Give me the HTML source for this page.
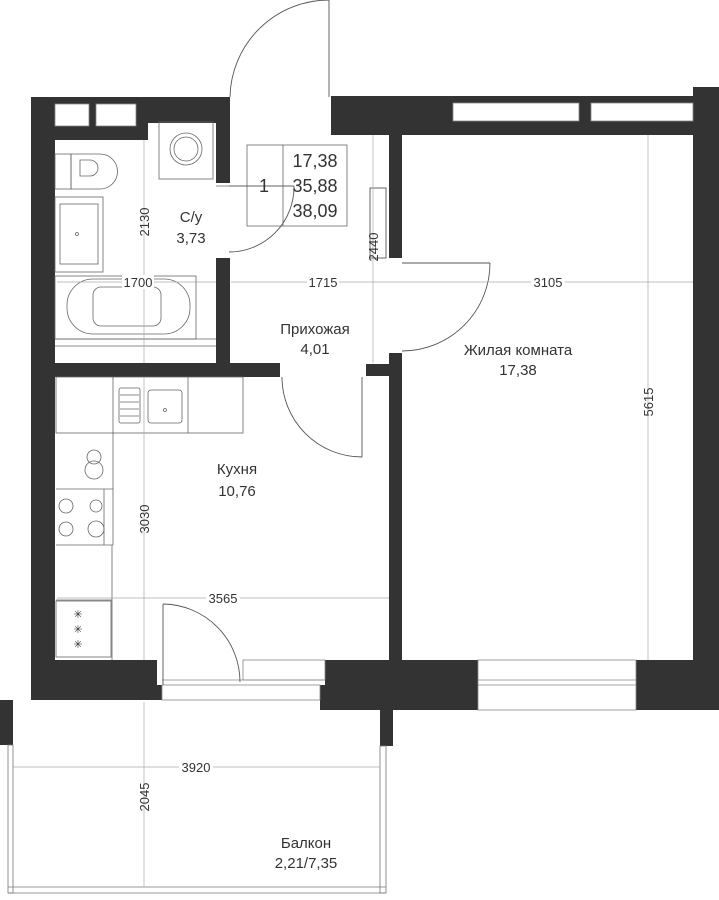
<!DOCTYPE html>
<html><head><meta charset="utf-8"><style>
html,body{margin:0;padding:0;background:#fff;}
svg{display:block}
text{font-family:"Liberation Sans",sans-serif;fill:#333;}
</style></head><body>
<svg width="719" height="900" viewBox="0 0 719 900" xmlns="http://www.w3.org/2000/svg">
<g fill="#333">
<rect x="31" y="97" width="199" height="26"/>
<rect x="31" y="97" width="117" height="43"/>
<rect x="31" y="97" width="24" height="603"/>
<rect x="216" y="97" width="14" height="86"/>
<rect x="216" y="258" width="14" height="105"/>
<rect x="31" y="363" width="249" height="14"/>
<rect x="331" y="96" width="364" height="39"/>
<rect x="693" y="87" width="26" height="623"/>
<rect x="389" y="135" width="13" height="123"/>
<rect x="389" y="353" width="13" height="310"/>
<rect x="366" y="364" width="25" height="12"/>
<rect x="31" y="660" width="126" height="40"/>
<rect x="157" y="685" width="5" height="15"/>
<rect x="325" y="660" width="153" height="25"/>
<rect x="320" y="685" width="163" height="25"/>
<rect x="380" y="700" width="13" height="46"/>
<rect x="636" y="660" width="83" height="50"/>
<rect x="0" y="700" width="13" height="45"/>
</g>
<g fill="#fff" stroke="#888" stroke-width="0.8">
<rect x="55" y="104" width="34" height="22"/>
<rect x="96" y="104" width="40" height="22"/>
<rect x="453" y="103" width="126" height="18"/>
<rect x="591" y="103" width="102" height="18"/>
<rect x="478" y="660" width="158" height="50"/>
<line x1="478" y1="680" x2="636" y2="680"/>
<line x1="478" y1="685" x2="636" y2="685"/>
<rect x="243" y="660" width="82" height="20"/>
<line x1="162" y1="680" x2="325" y2="680"/>
<rect x="162" y="685" width="158" height="15"/>
</g>
<g fill="none" stroke="#777" stroke-width="0.8">
<rect x="8" y="745" width="5" height="148"/>
<rect x="380" y="746" width="6" height="147"/>
<line x1="8" y1="887" x2="386" y2="887"/>
<line x1="8" y1="893" x2="386" y2="893"/>
</g>
<g fill="none" stroke="#555" stroke-width="0.9">
<line x1="329" y1="0" x2="329" y2="97"/>
<path d="M230 97 A99 99 0 0 1 329 0"/>
<line x1="229" y1="186" x2="294" y2="186"/>
<path d="M294 186 A65 65 0 0 1 229 252"/>
<line x1="402" y1="263" x2="490" y2="263"/>
<path d="M490 263 A88 88 0 0 1 402 351"/>
<line x1="362" y1="377" x2="362" y2="457"/>
<path d="M282 377 A80 80 0 0 0 362 457"/>
<line x1="163" y1="604" x2="163" y2="685"/>
<path d="M163 604 A78 78 0 0 1 240 682"/>
<rect x="370" y="188" width="16" height="70"/>
</g>
<g fill="none" stroke="#666" stroke-width="0.8">
<rect x="159" y="122" width="54" height="57"/>
<circle cx="186" cy="149" r="16"/>
<circle cx="186" cy="149" r="12"/>
<rect x="55" y="154" width="16" height="35"/>
<path d="M71 154 H100 A17 17 0 0 1 100 189 H71 Z"/>
<path d="M80 160 H90 A8 8 0 0 1 90 176 H80 Z"/>
<rect x="55" y="197" width="48" height="75"/>
<rect x="60" y="204" width="38" height="60"/>
<circle cx="77" cy="234" r="1.5"/>
<rect x="55" y="276" width="141" height="63"/>
<rect x="67" y="279" width="123" height="55" rx="26"/>
<rect x="93" y="287" width="68" height="39" rx="8"/>
<line x1="55" y1="346" x2="216" y2="346"/>
<line x1="55" y1="339" x2="216" y2="339"/>
<rect x="247" y="145" width="100" height="81"/>
<line x1="283" y1="145" x2="283" y2="226"/>
<line x1="216" y1="186" x2="294" y2="186"/>
<rect x="56" y="377" width="187" height="56"/>
<line x1="113" y1="377" x2="113" y2="545"/>
<line x1="188" y1="377" x2="188" y2="433"/>
<rect x="119" y="388" width="21" height="35" rx="2"/>
<line x1="120" y1="395" x2="139" y2="395"/><line x1="120" y1="402" x2="139" y2="402"/><line x1="120" y1="409" x2="139" y2="409"/><line x1="120" y1="416" x2="139" y2="416"/>
<rect x="148" y="390" width="34" height="33" rx="3"/>
<circle cx="165" cy="410" r="1.5"/>
<line x1="56" y1="489" x2="113" y2="489"/>
<line x1="56" y1="545" x2="113" y2="545"/>
<line x1="104" y1="489" x2="104" y2="545"/>
<circle cx="94" cy="457" r="7"/><circle cx="94" cy="470" r="9"/>
<circle cx="66" cy="506" r="7"/><circle cx="96" cy="506" r="6"/>
<circle cx="66" cy="529" r="7"/><circle cx="96" cy="529" r="8"/>
<rect x="56" y="601" width="55" height="56"/>
<line x1="56" y1="600" x2="112" y2="600"/>
<line x1="112" y1="545" x2="112" y2="660"/>
</g>
<g font-size="11" fill="#555"><text x="78" y="618" text-anchor="middle">✳</text><text x="78" y="633" text-anchor="middle">✳</text><text x="78" y="648" text-anchor="middle">✳</text></g>
<g stroke="#aaa" stroke-width="0.7">
<line x1="144" y1="140" x2="144" y2="363"/>
<line x1="57" y1="282" x2="216" y2="282"/>
<line x1="231" y1="282" x2="693" y2="282"/>
<line x1="373" y1="135" x2="373" y2="363"/>
<line x1="648" y1="135" x2="648" y2="660"/>
<line x1="144" y1="377" x2="144" y2="660"/>
<line x1="57" y1="598" x2="389" y2="598"/>
<line x1="13" y1="767" x2="380" y2="767"/>
<line x1="144" y1="702" x2="144" y2="887"/>
</g>
<g font-size="13" text-anchor="middle">
<rect x="122" y="275" width="32" height="14" fill="#fff"/><text x="138" y="287">1700</text>
<rect x="307" y="275" width="32" height="14" fill="#fff"/><text x="323" y="287">1715</text>
<rect x="531" y="275" width="34" height="14" fill="#fff"/><text x="548" y="287">3105</text>
<rect x="206" y="591" width="34" height="14" fill="#fff"/><text x="223" y="603">3565</text>
<rect x="179" y="760" width="34" height="14" fill="#fff"/><text x="196" y="772">3920</text>
<text transform="translate(149,222) rotate(-90)">2130</text>
<text transform="translate(378,247) rotate(-90)">2440</text>
<text transform="translate(653,402) rotate(-90)">5615</text>
<text transform="translate(149,519) rotate(-90)">3030</text>
<text transform="translate(149,797) rotate(-90)">2045</text>
</g>
<g font-size="18" text-anchor="middle">
<text x="315" y="167">17,38</text>
<text x="315" y="192">35,88</text>
<text x="315" y="217">38,09</text>
<text x="264" y="192">1</text>
<text x="191" y="222" font-size="15">С/у</text>
<text x="191" y="243" font-size="15">3,73</text>
<text x="315" y="334" font-size="15">Прихожая</text>
<text x="315" y="354" font-size="15">4,01</text>
<text x="518" y="355" font-size="15">Жилая комната</text>
<text x="518" y="375" font-size="15">17,38</text>
<text x="237" y="474" font-size="15">Кухня</text>
<text x="237" y="496" font-size="15">10,76</text>
<text x="306" y="848" font-size="15">Балкон</text>
<text x="306" y="868" font-size="15">2,21/7,35</text>
</g>
</svg>
</body></html>
